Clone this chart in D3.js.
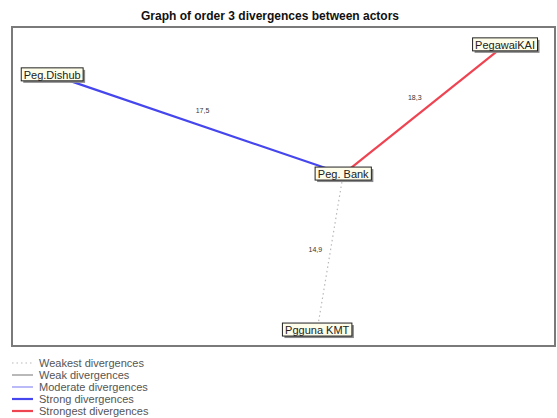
<!DOCTYPE html>
<html>
<head>
<meta charset="utf-8">
<script src="https://cdn.jsdelivr.net/npm/d3@7"></script>
<style>
  body { margin: 0; background: #fff; }
  svg { display: block; font-family: "Liberation Sans", Arial, sans-serif; }
</style>
</head>
<body>
<div id="chart"></div>
<script>
// actors and their map positions (0-100 space)
const actors = ['Peg.Dishub', 'Peg. Bank', 'PegawaiKAI', 'Pgguna KMT'];
const actorX = [7.4, 61.0, 90.8, 56.2];
const actorY = [15.0, 46.1, 5.6, 95.0];

// divergence links
const linkFrom = ['Peg.Dishub', 'PegawaiKAI', 'Pgguna KMT'];
const linkTo = ['Peg. Bank', 'Peg. Bank', 'Peg. Bank'];
const linkValue = [17.5, 18.3, 14.9];
const linkLevel = ['Strong', 'Strongest', 'Weakest'];

const legendLabels = ['Weakest divergences', 'Weak divergences', 'Moderate divergences', 'Strong divergences', 'Strongest divergences'];
const legendLevels = ['Weakest', 'Weak', 'Moderate', 'Strong', 'Strongest'];

const styles = {
  Weakest: { stroke: '#b8b8b8', width: 1.2, dash: '1.5,3' },
  Weak: { stroke: '#8a8a8a', width: 1.2, dash: null },
  Moderate: { stroke: '#8c8cf5', width: 1.2, dash: null },
  Strong: { stroke: '#4646ee', width: 2.2, dash: null },
  Strongest: { stroke: '#ee4452', width: 2.2, dash: null }
};

const width = 557;
const height = 418;
const box = { left: 12, top: 27, right: 555, bottom: 346 };

const svg = d3.select('#chart')
  .append('svg')
  .attr('width', width)
  .attr('height', height);

svg.append('text')
  .attr('x', 270)
  .attr('y', 20)
  .attr('text-anchor', 'middle')
  .attr('font-size', '12px')
  .attr('font-weight', 'bold')
  .attr('fill', '#111')
  .text('Graph of order 3 divergences between actors');

// frame
svg.append('rect')
  .attr('x', box.left)
  .attr('y', box.top)
  .attr('width', box.right - box.left)
  .attr('height', box.bottom - box.top)
  .attr('fill', 'none')
  .attr('stroke', '#7a7a7a')
  .attr('stroke-width', 2);

const x = d3.scaleLinear().domain([0, 100]).range([box.left, box.right]);
const y = d3.scaleLinear().domain([0, 100]).range([box.top, box.bottom]);

const nodes = actors.map((name, i) => ({ name, x: x(actorX[i]), y: y(actorY[i]) }));
const byName = new Map(nodes.map(d => [d.name, d]));
const links = linkFrom.map((f, i) => ({
  source: byName.get(f),
  target: byName.get(linkTo[i]),
  value: linkValue[i],
  level: linkLevel[i]
}));

svg.append('g')
  .selectAll('line')
  .data(links)
  .join('line')
    .attr('x1', d => d.source.x)
    .attr('y1', d => d.source.y)
    .attr('x2', d => d.target.x)
    .attr('y2', d => d.target.y)
    .attr('stroke', d => styles[d.level].stroke)
    .attr('stroke-width', d => styles[d.level].width)
    .attr('stroke-dasharray', d => styles[d.level].dash);

// value labels, offset perpendicular to the link, towards upper-left
const fmt = v => d3.format('.1f')(v).replace('.', ',');
svg.append('g')
  .selectAll('text')
  .data(links)
  .join('text')
    .each(function (d) {
      const dx = d.target.x - d.source.x, dy = d.target.y - d.source.y;
      const len = Math.hypot(dx, dy);
      let px = -dy / len, py = dx / len;
      if (px + py > 0) { px = -px; py = -py; }
      const off = 15;
      d3.select(this)
        .attr('x', (d.source.x + d.target.x) / 2 + px * off)
        .attr('y', (d.source.y + d.target.y) / 2 + py * off + 2.5);
    })
    .attr('text-anchor', 'middle')
    .attr('font-size', '7px')
    .attr('fill', '#333')
    .text(d => fmt(d.value));

// actor labels
const nodeG = svg.append('g')
  .selectAll('g')
  .data(nodes)
  .join('g')
    .attr('transform', d => `translate(${d.x},${d.y})`);

nodeG.append('text')
  .attr('text-anchor', 'middle')
  .attr('y', 4)
  .attr('font-size', '11px')
  .attr('fill', '#222')
  .text(d => d.name);

nodeG.each(function () {
  const g = d3.select(this);
  const bb = g.select('text').node().getBBox();
  const bw = bb.width + 5, bh = 13;
  const bx = -bw / 2, by = -7;
  g.insert('rect', 'text')
    .attr('x', bx + 2)
    .attr('y', by + 2)
    .attr('width', bw)
    .attr('height', bh)
    .attr('fill', '#8a8a8a');
  g.insert('rect', 'text')
    .attr('x', bx)
    .attr('y', by)
    .attr('width', bw)
    .attr('height', bh)
    .attr('fill', '#fdfdea')
    .attr('stroke', '#222')
    .attr('stroke-width', 1);
});

// legend
const legend = svg.append('g')
  .selectAll('g')
  .data(legendLevels)
  .join('g')
    .attr('transform', (d, i) => `translate(12,${363 + i * 12})`);

legend.append('line')
  .attr('x1', 0)
  .attr('x2', 21)
  .attr('stroke', d => styles[d].stroke)
  .attr('stroke-width', d => styles[d].width)
  .attr('stroke-dasharray', d => styles[d].dash);

legend.append('text')
  .attr('x', 27)
  .attr('y', 4)
  .attr('font-size', '11px')
  .attr('fill', '#555')
  .text((d, i) => legendLabels[i]);
</script>
</body>
</html>
